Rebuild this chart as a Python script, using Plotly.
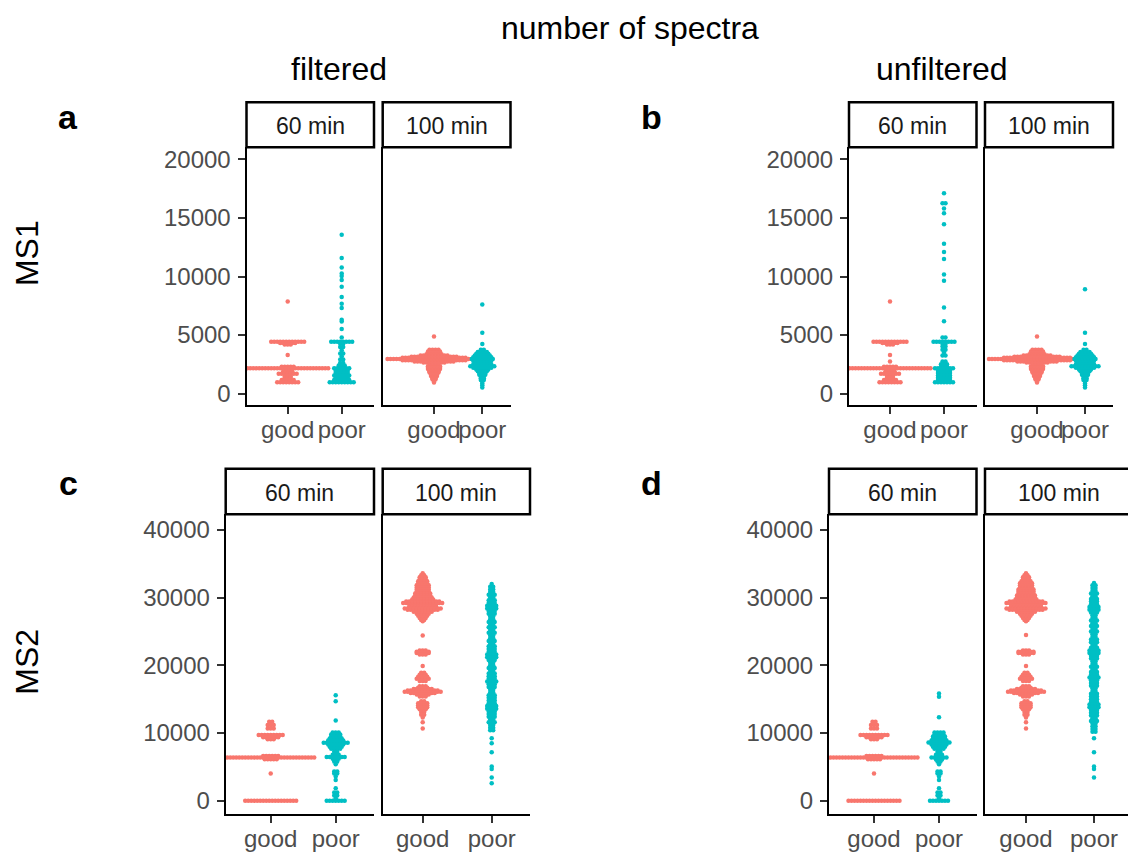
import plotly.graph_objects as go

W, H = 1128, 854
FONT = "Liberation Sans, Arial, sans-serif"
PINK = "#F8766D"
TEAL = "#00BFC4"

# ---------------- data ----------------
categories = ["good", "poor"]
facet_names = ["60 min", "100 min"]
ms1_ticks = [0, 5000, 10000, 15000, 20000]
ms2_ticks = [0, 10000, 20000, 30000, 40000]

# MS1, filtered, 60 min
ms1_filt_60_good_vals = [7870, 4430, 4330, 4200, 3300, 2300, 2160, 1900, 1700, 1500, 1350, 1150, 960]
ms1_filt_60_good_n = [1, 12, 6, 3, 1, 5, 28, 4, 7, 3, 3, 5, 8]
ms1_filt_60_poor_vals = [13570, 11590, 10760, 10250, 10050, 9710, 9120, 8240, 7670, 7300, 6300, 6160, 5510,
                         4800, 4430, 4250, 3980, 3690, 3430, 3180, 2900, 2610, 2400, 2160, 1950, 1750,
                         1550, 1350, 1150, 960]
ms1_filt_60_poor_n = [1, 1, 1, 1, 1, 1, 1, 1, 1, 1, 1, 1, 1,
                      1, 8, 2, 2, 1, 2, 1, 2, 2, 3, 6, 5, 5,
                      6, 5, 6, 9]
# MS1, filtered, 100 min
ms1_filt_100_good_vals = [4880, 3750, 3600, 3480, 3350, 3250, 3150, 3050, 2950, 2850, 2750, 2650, 2550,
                          2450, 2330, 2200, 2100, 2000, 1900, 1800, 1700, 1600, 1500, 1400, 1300, 1200,
                          1100, 950]
ms1_filt_100_good_n = [1, 4, 5, 5, 6, 10, 16, 22, 32, 22, 14, 8, 4,
                       2, 5, 5, 5, 4, 4, 4, 3, 3, 3, 2, 2, 2,
                       1, 1]
ms1_filt_100_poor_vals = [7600, 5200, 4230, 3750, 3550, 3400, 3250, 3100, 2950, 2800, 2650, 2500, 2330,
                          2200, 2050, 1900, 1750, 1600, 1450, 1300, 1150, 1000, 850, 700, 520]
ms1_filt_100_poor_n = [1, 1, 1, 2, 4, 5, 6, 7, 8, 7, 6, 7, 9,
                       7, 5, 4, 3, 3, 2, 2, 2, 1, 1, 1, 1]

# MS1, unfiltered, 60 min
ms1_unf_60_good_vals = [7870, 4430, 4330, 4200, 3300, 2730, 2300, 2160, 1900, 1700, 1500, 1350, 1150, 960]
ms1_unf_60_good_n = [1, 12, 6, 3, 1, 1, 5, 28, 4, 7, 3, 3, 5, 8]
ms1_unf_60_poor_vals = [17120, 16270, 15820, 15400, 14460, 12810, 12100, 11500, 10170, 9630, 7360, 6170,
                        4800, 4430, 4250, 4030, 3750, 3500, 3250, 2730, 2500, 2300, 2160, 1950, 1750,
                        1550, 1350, 1150, 960]
ms1_unf_60_poor_n = [1, 2, 1, 1, 1, 1, 1, 1, 1, 1, 1, 1,
                     2, 8, 2, 2, 2, 1, 2, 2, 3, 3, 7, 5, 5,
                     5, 5, 5, 7]
# MS1, unfiltered, 100 min
ms1_unf_100_good_vals = [4880, 3750, 3600, 3480, 3350, 3250, 3150, 3050, 2950, 2850, 2750, 2650, 2550,
                         2450, 2330, 2200, 2100, 2000, 1900, 1800, 1700, 1600, 1500, 1400, 1300, 1200,
                         1100, 950]
ms1_unf_100_good_n = [1, 4, 5, 5, 6, 10, 16, 23, 33, 23, 14, 8, 4,
                      2, 5, 5, 5, 4, 4, 4, 3, 3, 3, 2, 2, 2,
                      1, 1]
ms1_unf_100_poor_vals = [8920, 5200, 4230, 3750, 3550, 3400, 3250, 3100, 2950, 2800, 2650, 2500, 2330,
                         2200, 2050, 1900, 1750, 1600, 1450, 1300, 1150, 1000, 850, 700, 510]
ms1_unf_100_poor_n = [1, 1, 1, 2, 4, 5, 6, 7, 8, 7, 6, 7, 10,
                      7, 5, 4, 3, 3, 2, 2, 2, 1, 1, 1, 1]

# MS2, filtered, 60 min
ms2_filt_60_good_vals = [11680, 11180, 10690, 9710, 9400, 9100, 6600, 6380, 6150, 4030, 0]
ms2_filt_60_good_n = [2, 3, 3, 9, 6, 3, 6, 30, 5, 1, 18]
ms2_filt_60_poor_vals = [15590, 14710, 11870, 10100, 9800, 9500, 9200, 8900, 8590, 8300, 8000, 7700,
                         7260, 6800, 6470, 6200, 5790, 5400, 4320, 4030, 3600, 3090, 1870, 1230, 790,
                         400, 0]
ms2_filt_60_poor_n = [1, 1, 1, 3, 4, 4, 5, 6, 9, 6, 5, 4,
                      2, 3, 7, 3, 2, 1, 2, 2, 1, 1, 1, 2, 2,
                      1, 7]
# MS2, filtered, 100 min
ms2_filt_100_good_vals = [33600, 33300, 33000, 32700, 32400, 32100, 31800, 31500, 31200, 30900, 30600,
                          30300, 30000, 29700, 29400, 29200, 29000, 28800, 28600, 28400, 28200, 27900,
                          27600, 27300, 27000, 26700, 26500, 24410, 22200, 22000, 21800, 21600, 19910,
                          18900, 18600, 18300, 18000, 17700, 16900, 16700, 16500, 16300, 16100, 15900,
                          15700, 15400, 14700, 14400, 14100, 13800, 13500, 13100, 12700, 12300, 11600,
                          10690]
ms2_filt_100_good_n = [1, 2, 3, 3, 4, 4, 5, 5, 5, 5, 6,
                       6, 7, 8, 12, 14, 10, 8, 10, 13, 11, 7,
                       5, 4, 3, 2, 1, 1, 3, 5, 5, 3, 1,
                       2, 3, 4, 5, 3, 3, 4, 7, 11, 13, 9,
                       5, 3, 2, 4, 4, 4, 3, 2, 2, 1, 1,
                       1]
ms2_filt_100_poor_vals = [32000, 31600, 31200, 30800, 30400, 30000, 29600, 29200, 28800, 28400, 28000,
                          27600, 27200, 26800, 26400, 26000, 25600, 25200, 24800, 24400, 24000, 23600,
                          23200, 22800, 22400, 22000, 21600, 21200, 20800, 20400, 20000, 19600, 19200,
                          18800, 18400, 18000, 17600, 17200, 16800, 16400, 16000, 15600, 15200, 14800,
                          14400, 14000, 13600, 13200, 12800, 12400, 12000, 11600, 11200, 10800, 10400,
                          9220, 8490, 7160, 5060, 4710, 3440, 2600]
ms2_filt_100_poor_n = [1, 2, 2, 2, 3, 2, 3, 3, 4, 4, 3,
                       3, 2, 2, 3, 2, 3, 2, 3, 2, 2, 3,
                       2, 3, 3, 3, 4, 4, 3, 2, 2, 3, 2,
                       3, 3, 3, 4, 3, 3, 2, 2, 3, 3, 3,
                       3, 4, 4, 3, 3, 3, 2, 3, 2, 2, 2,
                       1, 1, 1, 1, 1, 1, 1]

# MS2, unfiltered, 60 min
ms2_unf_60_good_vals = [11680, 11180, 10690, 9710, 9400, 9100, 6600, 6380, 6150, 4030, 0]
ms2_unf_60_good_n = [2, 3, 3, 10, 6, 3, 6, 30, 5, 1, 18]
ms2_unf_60_poor_vals = [15840, 15350, 12350, 10100, 9800, 9500, 9200, 8900, 8600, 8300, 8000, 7700,
                        7260, 6800, 6380, 6100, 5790, 5400, 4320, 4030, 3600, 3090, 1870, 1230, 790,
                        400, 0]
ms2_unf_60_poor_n = [1, 1, 1, 4, 4, 5, 5, 6, 8, 6, 5, 4,
                     2, 3, 6, 3, 2, 1, 2, 2, 1, 1, 1, 2, 2,
                     1, 7]
# MS2, unfiltered, 100 min
ms2_unf_100_good_vals = [33600, 33300, 33000, 32700, 32400, 32100, 31800, 31500, 31200, 30900, 30600,
                         30300, 30000, 29700, 29400, 29200, 29000, 28800, 28600, 28400, 28200, 27900,
                         27600, 27300, 27000, 26700, 26500, 24460, 22200, 22000, 21800, 21600, 19910,
                         18900, 18600, 18300, 18000, 17700, 16900, 16700, 16500, 16300, 16100, 15900,
                         15700, 15400, 14700, 14400, 14100, 13800, 13500, 13100, 12700, 12300, 11600,
                         10690]
ms2_unf_100_good_n = [1, 2, 3, 3, 4, 5, 5, 5, 6, 6, 6,
                      7, 7, 8, 12, 14, 11, 9, 11, 14, 12, 7,
                      5, 4, 3, 2, 1, 1, 3, 6, 6, 3, 1,
                      2, 3, 4, 5, 3, 3, 4, 7, 11, 13, 9,
                      5, 3, 2, 4, 4, 4, 3, 2, 2, 1, 1,
                      1]
ms2_unf_100_poor_vals = [32160, 31800, 31400, 31000, 30600, 30200, 29800, 29400, 29000, 28600, 28200,
                         27800, 27400, 27000, 26600, 26200, 25800, 25400, 25000, 24600, 24200, 23800,
                         23400, 23000, 22600, 22200, 21800, 21400, 21000, 20600, 20200, 19800, 19400,
                         19000, 18600, 18200, 17800, 17400, 17000, 16600, 16200, 15800, 15400, 15000,
                         14600, 14200, 13800, 13400, 13000, 12600, 12200, 11800, 11400, 11000, 10600,
                         10200, 9220, 7160, 5060, 4710, 3440]
ms2_unf_100_poor_n = [1, 2, 2, 2, 3, 2, 3, 3, 3, 4, 4,
                      3, 2, 2, 3, 2, 3, 2, 3, 2, 2, 3,
                      3, 2, 3, 4, 4, 3, 3, 2, 2, 3, 2,
                      3, 3, 4, 3, 3, 3, 2, 2, 3, 3, 3,
                      3, 4, 4, 3, 3, 3, 2, 3, 2, 2, 2,
                      2, 1, 1, 1, 1, 1]

# (panel, facet, category, values, counts)
GROUPS = [
    (0, 0, 0, ms1_filt_60_good_vals, ms1_filt_60_good_n),
    (0, 0, 1, ms1_filt_60_poor_vals, ms1_filt_60_poor_n),
    (0, 1, 0, ms1_filt_100_good_vals, ms1_filt_100_good_n),
    (0, 1, 1, ms1_filt_100_poor_vals, ms1_filt_100_poor_n),
    (1, 0, 0, ms1_unf_60_good_vals, ms1_unf_60_good_n),
    (1, 0, 1, ms1_unf_60_poor_vals, ms1_unf_60_poor_n),
    (1, 1, 0, ms1_unf_100_good_vals, ms1_unf_100_good_n),
    (1, 1, 1, ms1_unf_100_poor_vals, ms1_unf_100_poor_n),
    (2, 0, 0, ms2_filt_60_good_vals, ms2_filt_60_good_n),
    (2, 0, 1, ms2_filt_60_poor_vals, ms2_filt_60_poor_n),
    (2, 1, 0, ms2_filt_100_good_vals, ms2_filt_100_good_n),
    (2, 1, 1, ms2_filt_100_poor_vals, ms2_filt_100_poor_n),
    (3, 0, 0, ms2_unf_60_good_vals, ms2_unf_60_good_n),
    (3, 0, 1, ms2_unf_60_poor_vals, ms2_unf_60_poor_n),
    (3, 1, 0, ms2_unf_100_good_vals, ms2_unf_100_good_n),
    (3, 1, 1, ms2_unf_100_poor_vals, ms2_unf_100_poor_n),
]
for g in GROUPS:
    assert len(g[3]) == len(g[4]), g[3][:2]

# ---------------- layout geometry (pixels) ----------------
ROWS = [
    dict(strip_top=101.5, top=146.7, bottom=405.7, yrange=[-1000, 21050], ticks=ms1_ticks),
    dict(strip_top=469.5, top=515.0, bottom=816.0, yrange=[-1960, 42300], ticks=ms2_ticks),
]
# facets: (x0, x1, px of 'good', px of 'poor')
PANELS = [
    dict(label="a", row=0, lx=68, facets=[(246.5, 374.0, 287.7, 341.7), (382.7, 510.5, 434.0, 482.3)]),
    dict(label="b", row=0, lx=651, facets=[(849.0, 976.5, 890.0, 944.0), (985.0, 1113.0, 1037.0, 1085.0)]),
    dict(label="c", row=1, lx=68, facets=[(225.7, 374.0, 270.7, 335.7), (382.7, 530.0, 422.7, 491.7)]),
    dict(label="d", row=1, lx=651, facets=[(829.0, 976.5, 874.0, 939.0), (985.0, 1128.0, 1026.0, 1094.0)]),
]
SPACING_PX = 3.0
MARKER_PX = 4.5
COLORS = [PINK, TEAL]
TICK_FONT = 24


def px_x(p):
    return p / W


def px_y(p):
    return 1 - p / H


def swarm(vals, counts, center, step):
    xs, ys = [], []
    for v, n in zip(vals, counts):
        for i in range(n):
            xs.append(center + (i - (n - 1) / 2.0) * step)
            ys.append(v)
    return xs, ys


fig = go.Figure()
layout = dict(width=W, height=H, margin=dict(l=0, r=0, t=0, b=0),
              paper_bgcolor="white", plot_bgcolor="white", showlegend=False,
              font=dict(family=FONT), shapes=[], annotations=[])

axis_index = {}
k = 0
for pi, panel in enumerate(PANELS):
    row = ROWS[panel["row"]]
    for fi, (x0, x1, gpx, ppx) in enumerate(panel["facets"]):
        k += 1
        axis_index[(pi, fi)] = k
        ppu = ppx - gpx
        xr = [1 - (gpx - x0) / ppu, 2 + (x1 - ppx) / ppu]
        xname = "xaxis" if k == 1 else f"xaxis{k}"
        yname = "yaxis" if k == 1 else f"yaxis{k}"
        layout[xname] = dict(
            domain=[px_x(x0), min(1.0, px_x(x1))], range=xr, anchor=f"y{k}" if k > 1 else "y",
            tickmode="array", tickvals=[1, 2], ticktext=categories, tickangle=0,
            showline=True, linecolor="black", linewidth=2, mirror=False,
            ticks="outside", ticklen=7, tickwidth=2, tickcolor="#333333",
            ticklabelstandoff=-5,
            tickfont=dict(size=TICK_FONT, color="#4D4D4D", family=FONT),
            showgrid=False, zeroline=False, fixedrange=True)
        ydict = dict(
            domain=[px_y(row["bottom"]), px_y(row["top"])], range=row["yrange"],
            anchor=f"x{k}" if k > 1 else "x",
            showline=True, linecolor="black", linewidth=2, mirror=False,
            showgrid=False, zeroline=False, fixedrange=True)
        if fi == 0:
            ydict.update(tickmode="array", tickvals=row["ticks"], ticktext=[str(t) for t in row["ticks"]],
                         ticks="outside", ticklen=7, tickwidth=2, tickcolor="#333333",
                         ticklabelstandoff=2,
                         tickfont=dict(size=TICK_FONT, color="#4D4D4D", family=FONT))
        else:
            ydict.update(ticks="", showticklabels=False)
        layout[yname] = ydict

        # strip box and label
        layout["shapes"].append(dict(
            type="rect", xref="paper", yref="paper",
            x0=px_x(x0), x1=px_x(x1 + (4 if x1 >= W else 0)),
            y0=px_y(row["top"]), y1=px_y(row["strip_top"]),
            line=dict(color="black", width=2.5), fillcolor="white", layer="above"))
        layout["annotations"].append(dict(
            text=facet_names[fi], xref="paper", yref="paper",
            x=px_x((x0 + x1) / 2 if x1 < W else (x0 + 1132) / 2), y=px_y((row["strip_top"] + row["top"]) / 2 + 1),
            xanchor="center", yanchor="middle", showarrow=False,
            font=dict(size=23, color="#1A1A1A", family=FONT)))

# points
for pi, fi, ci, vals, counts in GROUPS:
    k = axis_index[(pi, fi)]
    x0, x1, gpx, ppx = PANELS[pi]["facets"][fi]
    step = SPACING_PX / (ppx - gpx)
    xs, ys = swarm(vals, counts, ci + 1, step)
    fig.add_trace(go.Scatter(
        x=xs, y=ys, mode="markers",
        xaxis=f"x{k}" if k > 1 else "x", yaxis=f"y{k}" if k > 1 else "y",
        marker=dict(size=MARKER_PX, color=COLORS[ci], line=dict(width=0)),
        hoverinfo="y"))


# titles and labels
def ann(text, x, y, size, bold=False, angle=0, color="black"):
    layout["annotations"].append(dict(
        text=f"<b>{text}</b>" if bold else text, xref="paper", yref="paper",
        x=px_x(x), y=px_y(y), xanchor="center", yanchor="middle", showarrow=False,
        textangle=angle, font=dict(size=size, color=color, family=FONT)))


ann("number of spectra", 630, 27, 32)
ann("filtered", 338.5, 68, 32)
ann("unfiltered", 941.5, 68, 32)
for panel in PANELS:
    ly = 116 if panel["row"] == 0 else 484
    ann(panel["label"], panel["lx"], ly, 34, bold=True)
ann("MS1", 27, 253, 32, angle=-90)
ann("MS2", 27, 663, 32, angle=-90)

fig.update_layout(**layout)
fig.write_html("out.html")
